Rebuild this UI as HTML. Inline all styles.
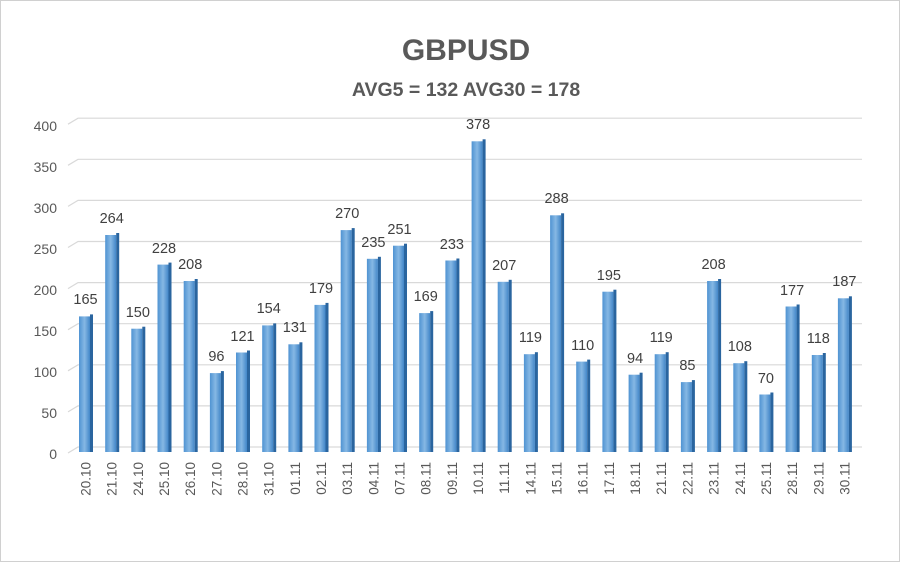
<!DOCTYPE html>
<html><head><meta charset="utf-8"><style>html,body{margin:0;padding:0;background:#fff}svg{display:block}text{font-family:"Liberation Sans",sans-serif}</style></head><body>
<svg width="900" height="562" viewBox="0 0 900 562" xmlns="http://www.w3.org/2000/svg">
<defs><linearGradient id="g" x1="0" x2="1" y1="0" y2="0"><stop offset="0" stop-color="#4f93d2"/><stop offset="0.5" stop-color="#86b8e4"/><stop offset="1" stop-color="#4286c8"/></linearGradient></defs>
<rect x="0.5" y="0.5" width="899" height="561" fill="#fff" stroke="#d0d0d0"/>
<text x="466" y="60" font-size="30" font-weight="bold" fill="#595959" text-anchor="middle">GBPUSD</text>
<text x="466" y="96" font-size="19.5" font-weight="bold" fill="#595959" text-anchor="middle">AVG5 = 132 AVG30 = 178</text>
<g stroke="#d9d9d9" stroke-width="1.2" fill="none">
<path d="M68 453L78 447H862M68 411.9L78 405.9H862M68 370.8L78 364.8H862M68 329.7L78 323.7H862M68 288.6L78 282.6H862M68 247.5L78 241.5H862M68 206.4L78 200.4H862M68 165.3L78 159.3H862M68 124.2L78 118.2H862"/>
</g>
<g font-size="14" fill="#595959" text-anchor="end">
<text x="57" y="459">0</text><text x="57" y="418">50</text><text x="57" y="377">100</text><text x="57" y="336">150</text><text x="57" y="295">200</text><text x="57" y="254">250</text><text x="57" y="213">300</text><text x="57" y="172">350</text><text x="57" y="131">400</text>
</g>
<g fill="url(#g)">
<rect x="79" y="316.4" width="11" height="135.6"/><rect x="105.2" y="235" width="11" height="217"/><rect x="131.3" y="328.7" width="11" height="123.3"/><rect x="157.5" y="264.6" width="11" height="187.4"/><rect x="183.7" y="281" width="11" height="171"/><rect x="209.9" y="373.1" width="11" height="78.9"/><rect x="236" y="352.5" width="11" height="99.5"/><rect x="262.2" y="325.4" width="11" height="126.6"/><rect x="288.4" y="344.3" width="11" height="107.7"/><rect x="314.5" y="304.9" width="11" height="147.1"/><rect x="340.7" y="230.1" width="11" height="221.9"/><rect x="366.9" y="258.8" width="11" height="193.2"/><rect x="393" y="245.7" width="11" height="206.3"/><rect x="419.2" y="313.1" width="11" height="138.9"/><rect x="445.4" y="260.5" width="11" height="191.5"/><rect x="471.6" y="141.3" width="11" height="310.7"/><rect x="497.7" y="281.8" width="11" height="170.2"/><rect x="523.9" y="354.2" width="11" height="97.8"/><rect x="550.1" y="215.3" width="11" height="236.7"/><rect x="576.2" y="361.6" width="11" height="90.4"/><rect x="602.4" y="291.7" width="11" height="160.3"/><rect x="628.6" y="374.7" width="11" height="77.3"/><rect x="654.7" y="354.2" width="11" height="97.8"/><rect x="680.9" y="382.1" width="11" height="69.9"/><rect x="707.1" y="281" width="11" height="171"/><rect x="733.3" y="363.2" width="11" height="88.8"/><rect x="759.4" y="394.5" width="11" height="57.5"/><rect x="785.6" y="306.5" width="11" height="145.5"/><rect x="811.8" y="355" width="11" height="97"/><rect x="837.9" y="298.3" width="11" height="153.7"/>
</g>
<g fill="#2a659f">
<rect x="90" y="314.4" width="3" height="137.6"/><rect x="116.2" y="233" width="3" height="219"/><rect x="142.3" y="326.7" width="3" height="125.3"/><rect x="168.5" y="262.6" width="3" height="189.4"/><rect x="194.7" y="279" width="3" height="173"/><rect x="220.9" y="371.1" width="3" height="80.9"/><rect x="247" y="350.5" width="3" height="101.5"/><rect x="273.2" y="323.4" width="3" height="128.6"/><rect x="299.4" y="342.3" width="3" height="109.7"/><rect x="325.5" y="302.9" width="3" height="149.1"/><rect x="351.7" y="228.1" width="3" height="223.9"/><rect x="377.9" y="256.8" width="3" height="195.2"/><rect x="404" y="243.7" width="3" height="208.3"/><rect x="430.2" y="311.1" width="3" height="140.9"/><rect x="456.4" y="258.5" width="3" height="193.5"/><rect x="482.6" y="139.3" width="3" height="312.7"/><rect x="508.7" y="279.8" width="3" height="172.2"/><rect x="534.9" y="352.2" width="3" height="99.8"/><rect x="561.1" y="213.3" width="3" height="238.7"/><rect x="587.2" y="359.6" width="3" height="92.4"/><rect x="613.4" y="289.7" width="3" height="162.3"/><rect x="639.6" y="372.7" width="3" height="79.3"/><rect x="665.7" y="352.2" width="3" height="99.8"/><rect x="691.9" y="380.1" width="3" height="71.9"/><rect x="718.1" y="279" width="3" height="173"/><rect x="744.3" y="361.2" width="3" height="90.8"/><rect x="770.4" y="392.5" width="3" height="59.5"/><rect x="796.6" y="304.5" width="3" height="147.5"/><rect x="822.8" y="353" width="3" height="99"/><rect x="848.9" y="296.3" width="3" height="155.7"/>
</g>
<g font-size="14.5" fill="#404040" text-anchor="middle">
<text x="85.5" y="304">165</text><text x="111.7" y="223">264</text><text x="137.8" y="317">150</text><text x="164" y="253">228</text><text x="190.2" y="269">208</text><text x="216.4" y="361">96</text><text x="242.5" y="341">121</text><text x="268.7" y="313">154</text><text x="294.9" y="332">131</text><text x="321" y="293">179</text><text x="347.2" y="218">270</text><text x="373.4" y="247">235</text><text x="399.5" y="234">251</text><text x="425.7" y="301">169</text><text x="451.9" y="249">233</text><text x="478.1" y="129">378</text><text x="504.2" y="270">207</text><text x="530.4" y="342">119</text><text x="556.6" y="203">288</text><text x="582.7" y="350">110</text><text x="608.9" y="280">195</text><text x="635.1" y="363">94</text><text x="661.2" y="342">119</text><text x="687.4" y="370">85</text><text x="713.6" y="269">208</text><text x="739.8" y="351">108</text><text x="765.9" y="383">70</text><text x="792.1" y="295">177</text><text x="818.3" y="343">118</text><text x="844.4" y="286">187</text>
</g>
<g font-size="13.5" fill="#595959" text-anchor="end">
<text transform="translate(90.5,462) rotate(-90)">20.10</text><text transform="translate(116.7,462) rotate(-90)">21.10</text><text transform="translate(142.8,462) rotate(-90)">24.10</text><text transform="translate(169,462) rotate(-90)">25.10</text><text transform="translate(195.2,462) rotate(-90)">26.10</text><text transform="translate(221.4,462) rotate(-90)">27.10</text><text transform="translate(247.5,462) rotate(-90)">28.10</text><text transform="translate(273.7,462) rotate(-90)">31.10</text><text transform="translate(299.9,462) rotate(-90)">01.11</text><text transform="translate(326,462) rotate(-90)">02.11</text><text transform="translate(352.2,462) rotate(-90)">03.11</text><text transform="translate(378.4,462) rotate(-90)">04.11</text><text transform="translate(404.5,462) rotate(-90)">07.11</text><text transform="translate(430.7,462) rotate(-90)">08.11</text><text transform="translate(456.9,462) rotate(-90)">09.11</text><text transform="translate(483.1,462) rotate(-90)">10.11</text><text transform="translate(509.2,462) rotate(-90)">11.11</text><text transform="translate(535.4,462) rotate(-90)">14.11</text><text transform="translate(561.6,462) rotate(-90)">15.11</text><text transform="translate(587.7,462) rotate(-90)">16.11</text><text transform="translate(613.9,462) rotate(-90)">17.11</text><text transform="translate(640.1,462) rotate(-90)">18.11</text><text transform="translate(666.2,462) rotate(-90)">21.11</text><text transform="translate(692.4,462) rotate(-90)">22.11</text><text transform="translate(718.6,462) rotate(-90)">23.11</text><text transform="translate(744.8,462) rotate(-90)">24.11</text><text transform="translate(770.9,462) rotate(-90)">25.11</text><text transform="translate(797.1,462) rotate(-90)">28.11</text><text transform="translate(823.3,462) rotate(-90)">29.11</text><text transform="translate(849.4,462) rotate(-90)">30.11</text>
</g>
</svg>
</body></html>
